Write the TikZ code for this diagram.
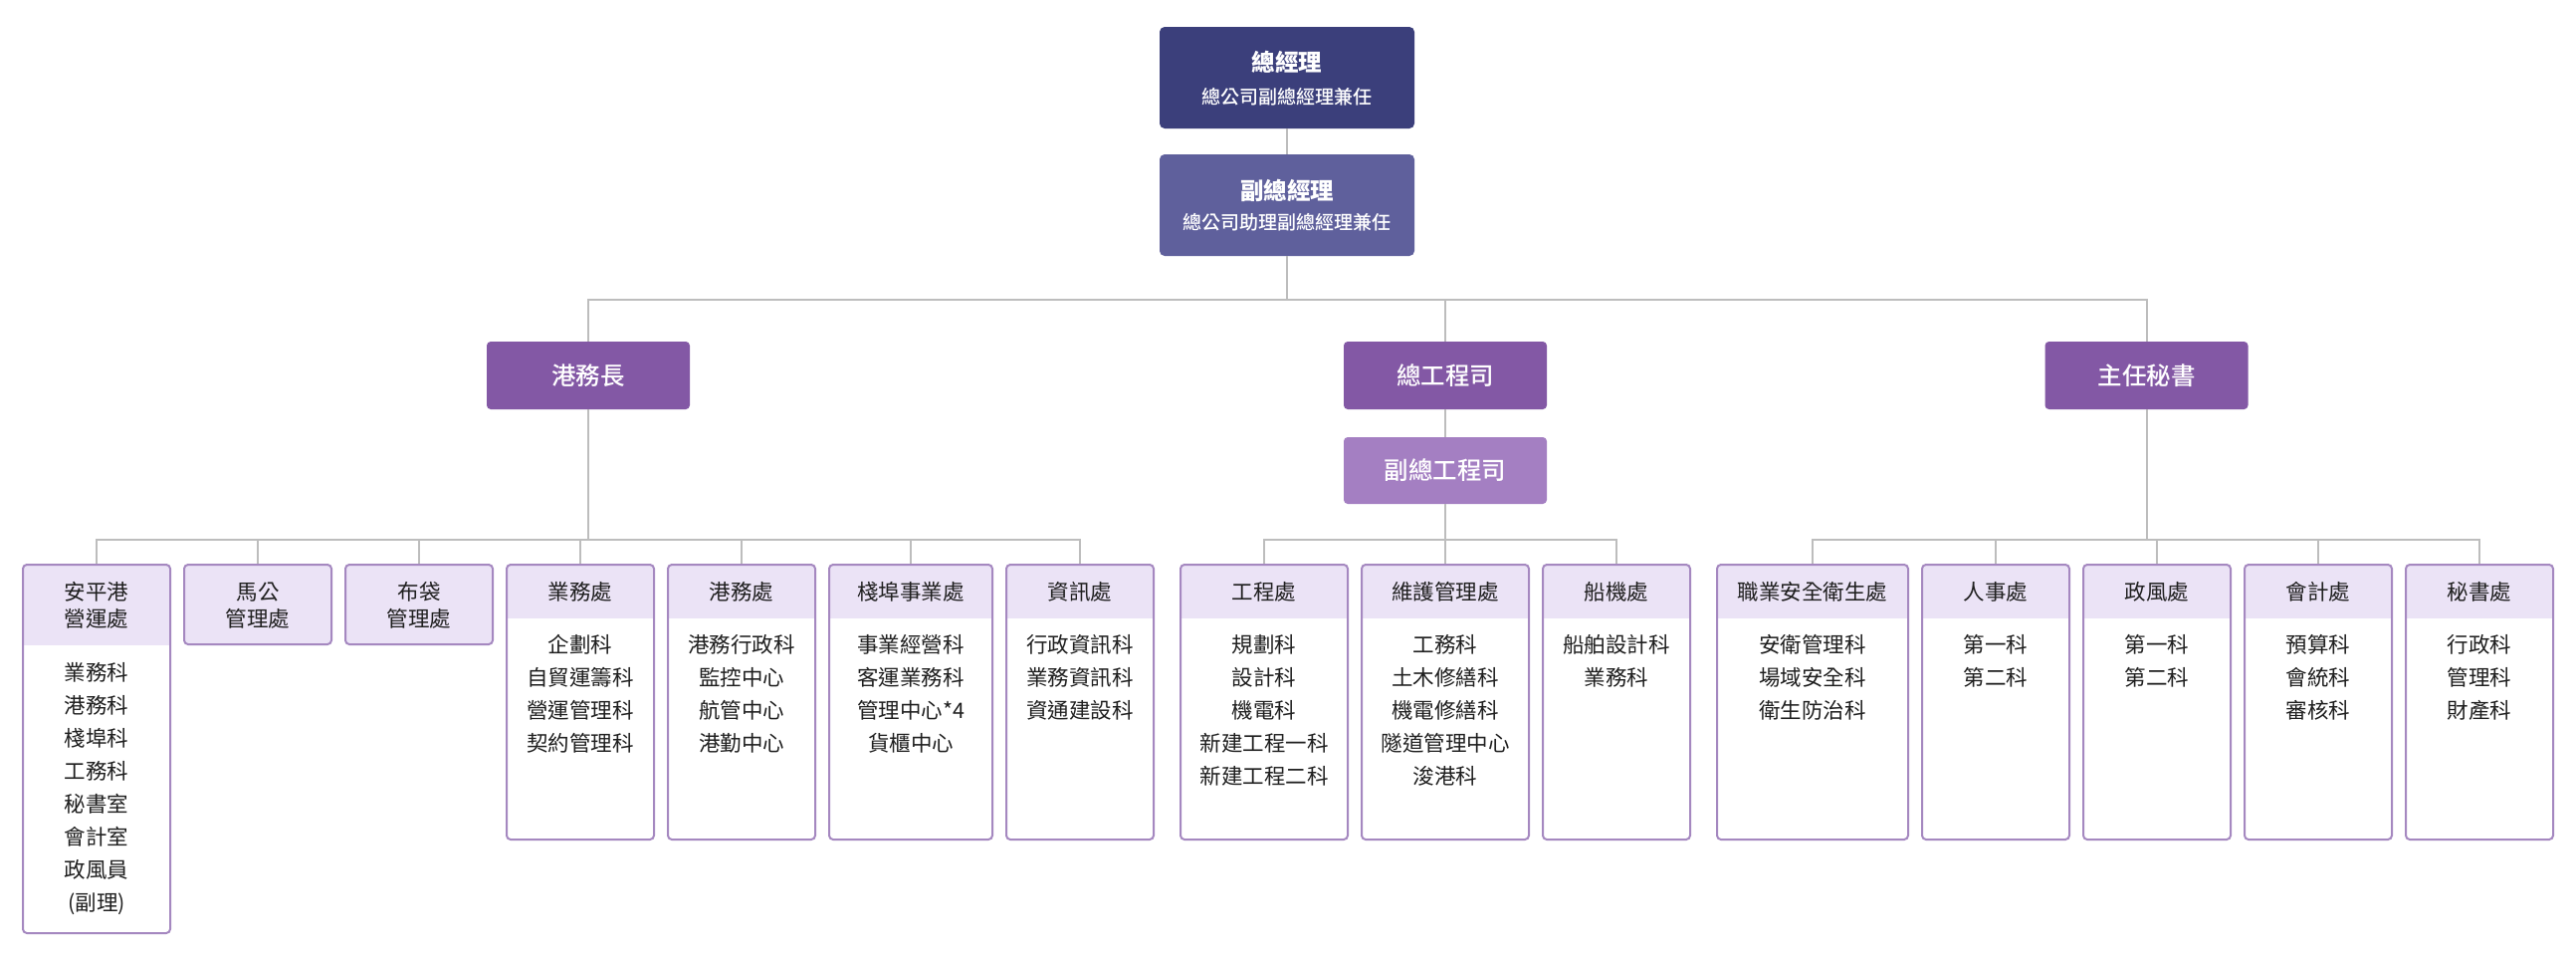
\documentclass[tikz,border=0pt]{standalone}
\usepackage{fontspec}
\setmainfont{Noto Sans CJK TC}
\newfontfamily\medfont{Noto Sans CJK TC Medium}
\definecolor{cgm}{HTML}{3B3F7B}
\definecolor{cdgm}{HTML}{5F609C}
\definecolor{lvl2}{HTML}{8358A5}
\definecolor{lvl2b}{HTML}{A47FC2}
\definecolor{headfill}{HTML}{EBE3F6}
\definecolor{bordc}{HTML}{A588C0}
\definecolor{linegray}{HTML}{BDBDBD}
\definecolor{txt}{HTML}{1F1F1F}
\newcommand\myfs[2]{\fontsize{#1}{#2}\selectfont}
\tikzset{
  conn/.style={draw=linegray, line width=2pt},
  topbox/.style={rounded corners=5pt, minimum width=256pt, minimum height=102pt, inner sep=0pt},
  toptitle/.style={inner sep=0pt, text=white, font=\myfs{23.5}{28}\bfseries, text height=20.7pt, text depth=2.8pt},
  topsub/.style={inner sep=0pt, text=white, font=\medfont\myfs{19}{24}, text height=16.7pt, text depth=2.3pt},
  midbox/.style={rounded corners=4pt, minimum width=204pt, minimum height=68pt, inner sep=0pt, fill=lvl2, text=white, font=\medfont\myfs{24.5}{28}, text height=21.6pt, text depth=2.9pt},
  deptbox/.style={draw=bordc, line width=2pt, rounded corners=4pt, inner sep=0pt},
  lbl/.style={inner sep=0pt, text=txt, font=\myfs{21.5}{26}, text height=18.9pt, text depth=2.6pt},
}
% #1 name, #2 left, #3 right, #4 header bottom, #5 bottom, #6 header lines, #7 first item y, #8 items
\newcommand\dept[8]{%
  \begin{scope}
    \clip[rounded corners=4pt] (#2,567) rectangle (#3,#5);
    \fill[headfill] (#2,567) rectangle (#3,#4);
  \end{scope}
  \node[deptbox, minimum width={#3-#2}, minimum height={#5-567}] (#1) at ({(#2+#3)/2},{(567+#5)/2}) {};
  \foreach \t [count=\i from 0] in {#6}
    \node[lbl] (#1-h\i) at ({(#2+#3)/2},{594+27*\i}) {\t};
  \foreach \t [count=\i from 0] in {#8}
    \node[lbl] (#1-i\i) at ({(#2+#3)/2},{#7+33*\i}) {\t};
}
% header-only box: #1 name, #2 left, #3 right, #4 lines
\newcommand\hdept[4]{%
  \node[deptbox, fill=headfill, minimum width={#3-#2}, minimum height=80pt] (#1) at ({(#2+#3)/2},607) {};
  \foreach \t [count=\i from 0] in {#4}
    \node[lbl] (#1-h\i) at ({(#2+#3)/2},{594+27*\i}) {\t};
}
\begin{document}
\begin{tikzpicture}[x=1pt,y=-1pt]
\useasboundingbox[fill=white] (0,0) rectangle (2588,964);

% top levels
\node[topbox, fill=cgm] (gm) at (1293,78) {};
\node[toptitle] (gmT) at (1293,63) {總經理};
\node[topsub] (gmS) at (1293,97) {總公司副總經理兼任};
\node[topbox, fill=cdgm] (dgm) at (1293,206) {};
\node[toptitle] (dgmT) at (1293,192) {副總經理};
\node[topsub] (dgmS) at (1293,223) {總公司助理副總經理兼任};

\node[midbox] (pm) at (591,377) {港務長};
\node[midbox] (ce) at (1452,377) {總工程司};
\node[midbox] (sec) at (2156.5,377) {主任秘書};
\node[midbox, fill=lvl2b, minimum height=67pt] (dce) at (1452,472.5) {副總工程司};

% departments
\dept{ap}{23}{171}{648}{937}{安平港,營運處}{675}{業務科,港務科,棧埠科,工務科,秘書室,會計室,政風員,(副理)}
\hdept{mg}{185}{333}{馬公,管理處}
\hdept{bd}{347}{495}{布袋,管理處}
\dept{yw}{509}{657}{621}{843}{業務處}{647}{企劃科,自貿運籌科,營運管理科,契約管理科}
\dept{gw}{671}{819}{621}{843}{港務處}{647}{港務行政科,監控中心,航管中心,港勤中心}
\dept{zb}{833}{997}{621}{843}{棧埠事業處}{647}{事業經營科,客運業務科,管理中心*4,貨櫃中心}
\dept{zx}{1011}{1159}{621}{843}{資訊處}{647}{行政資訊科,業務資訊科,資通建設科}
\dept{gc}{1186}{1354}{621}{843}{工程處}{647}{規劃科,設計科,機電科,新建工程一科,新建工程二科}
\dept{wh}{1368}{1536}{621}{843}{維護管理處}{647}{工務科,土木修繕科,機電修繕科,隧道管理中心,浚港科}
\dept{cj}{1550}{1698}{621}{843}{船機處}{647}{船舶設計科,業務科}
\dept{zy}{1725}{1917}{621}{843}{職業安全衛生處}{647}{安衛管理科,場域安全科,衛生防治科}
\dept{rs}{1931}{2079}{621}{843}{人事處}{647}{第一科,第二科}
\dept{zf}{2093}{2241}{621}{843}{政風處}{647}{第一科,第二科}
\dept{kj}{2255}{2403}{621}{843}{會計處}{647}{預算科,會統科,審核科}
\dept{ms}{2417}{2565}{621}{843}{秘書處}{647}{行政科,管理科,財產科}

% connectors
\coordinate (busA) at (0,301);
\coordinate (busB) at (0,542);
\draw[conn] (gm.south) -- (dgm.north);
\foreach \c in {pm,ce,sec}
  \draw[conn] (dgm.south) -- (dgm.south |- busA) -| (\c.north);
\draw[conn] (ce.south) -- (dce.north);
\foreach \c in {ap,mg,bd,yw,gw,zb,zx}
  \draw[conn] (pm.south) -- (pm.south |- busB) -| (\c.north);
\foreach \c in {gc,wh,cj}
  \draw[conn] (dce.south) -- (dce.south |- busB) -| (\c.north);
\foreach \c in {zy,rs,zf,kj,ms}
  \draw[conn] (sec.south) -- (sec.south |- busB) -| (\c.north);
\end{tikzpicture}
\end{document}
